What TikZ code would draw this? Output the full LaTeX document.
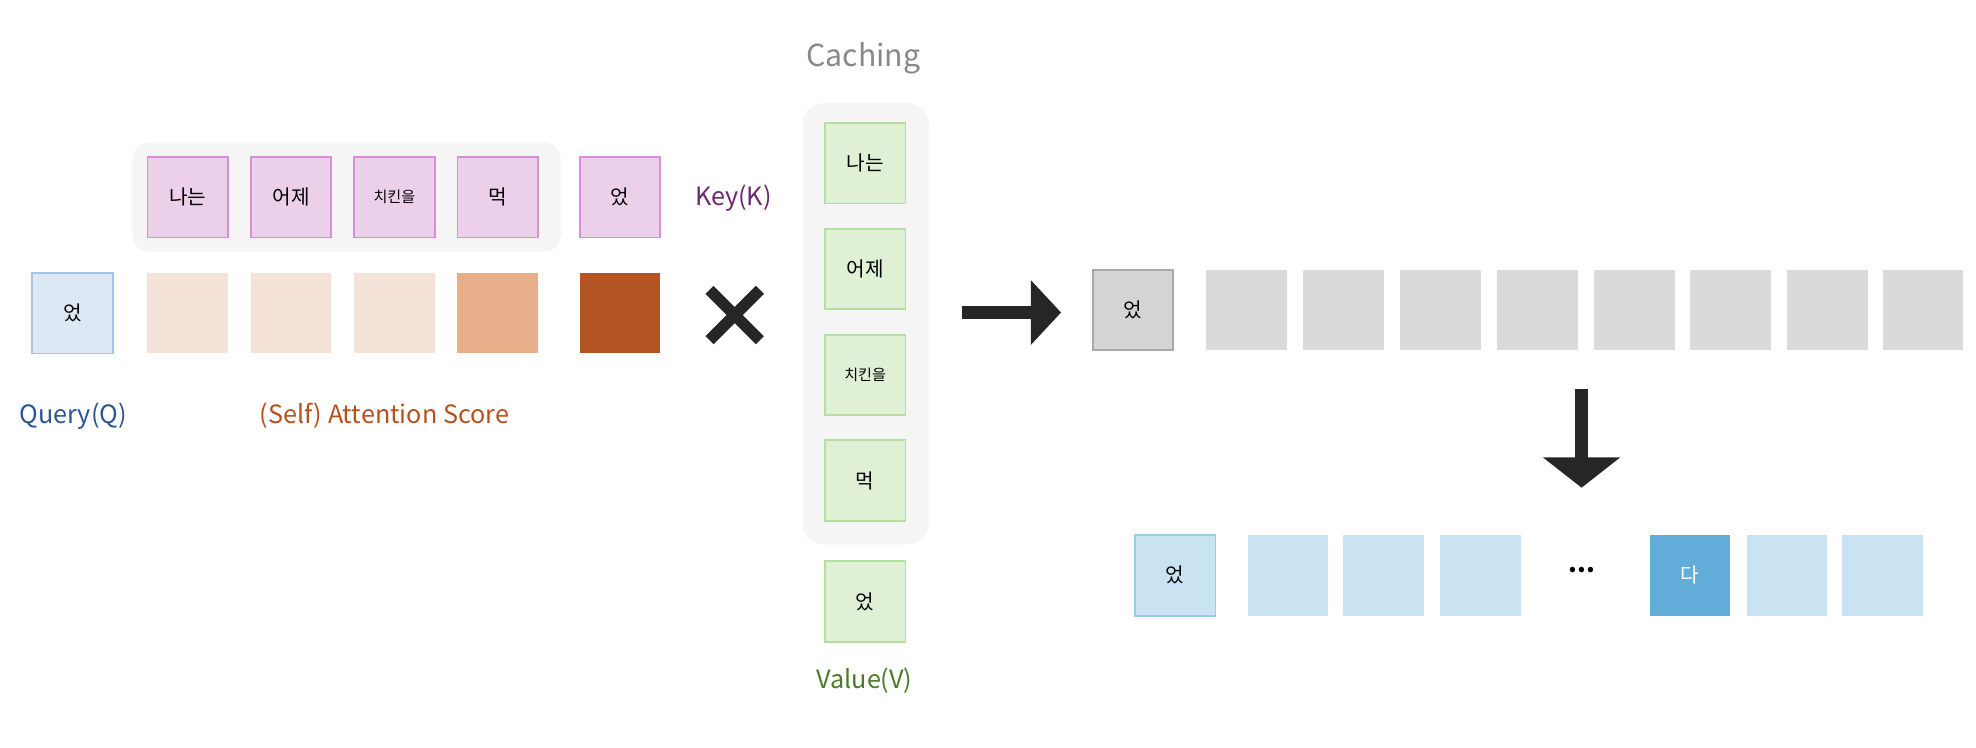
\documentclass[tikz,border=0pt]{standalone}
\usepackage{fontspec}
\setmainfont{Noto Sans CJK KR}
\usetikzlibrary{arrows.meta}
\definecolor{keyf}{HTML}{ECCFE9}\definecolor{keyd}{HTML}{D88FD8}
\definecolor{qf}{HTML}{DDE8F5}\definecolor{qd}{HTML}{A5C4E6}
\definecolor{s1}{HTML}{F5E3D9}\definecolor{s2}{HTML}{E7AE8A}\definecolor{s3}{HTML}{B25424}
\definecolor{vf}{HTML}{DFF0D5}\definecolor{vd}{HTML}{B5DFA0}
\definecolor{gf}{HTML}{DADADA}\definecolor{gq}{HTML}{D4D4D4}\definecolor{gd}{HTML}{A8A8A8}
\definecolor{bf}{HTML}{C9E3F2}\definecolor{bd}{HTML}{9CCBE6}\definecolor{bq}{HTML}{62ACD9}
\definecolor{cont}{HTML}{F5F5F5}\definecolor{ark}{HTML}{262626}
\definecolor{kt}{HTML}{6B2A6B}\definecolor{qt}{HTML}{2B5594}\definecolor{st}{HTML}{B5501F}
\definecolor{vt}{HTML}{4A7A2A}\definecolor{ct}{HTML}{888888}
\tikzset{
 x=1pt,y=-1pt,
 cell/.style={minimum width=64pt,minimum height=64pt,inner sep=0pt,line width=1.5pt,font=\fontsize{16}{16}\selectfont},
 keyc/.style={cell,fill=keyf,draw=keyd},
 valc/.style={cell,fill=vf,draw=vd},
 lbl/.style={font=\fontsize{20}{20}\selectfont},
 bigarrow/.style={draw=ark,line width=10pt,-{Triangle[length=24pt,width=50pt]}}
}
\begin{document}
\begin{tikzpicture}
\useasboundingbox (0,0) rectangle (1568,593);
\node[fill=cont,rounded corners=14pt,minimum width=340pt,minimum height=87pt] (kc) at (275,156.5) {};
\node[keyc] (k1) at (149,156.5) {나는};
\node[keyc] (k2) at (231,156.5) {어제};
\node[keyc,font=\fontsize{12}{12}\selectfont] (k3) at (313,156.5) {치킨을};
\node[keyc] (k4) at (395,156.5) {먹};
\node[keyc] (k5) at (492,156.5) {었};
\node[lbl,text=kt] (kl) at (582,157) {Key(K)};
\node[cell,fill=qf,draw=qd] (q) at (57.5,248.5) {었};
\node[cell,fill=s1] (a1) at (149,248.5) {};
\node[cell,fill=s1] (a2) at (231,248.5) {};
\node[cell,fill=s1] (a3) at (313,248.5) {};
\node[cell,fill=s2] (a4) at (395,248.5) {};
\node[cell,fill=s3] (a5) at (492,248.5) {};
\node[lbl,text=qt] (ql) at (58,330) {Query(Q)};
\node[lbl,text=st] (sl) at (305,330) {(Self) Attention Score};
\coordinate (x1) at (563,230); \coordinate (x2) at (603,270);
\coordinate (x3) at (603,230); \coordinate (x4) at (563,270);
\draw[ark,line width=9pt] (x1) -- (x2); \draw[ark,line width=9pt] (x3) -- (x4);
\node[font=\fontsize{24}{24}\selectfont,text=ct] (cl) at (685,46) {Caching};
\node[fill=cont,rounded corners=16pt,minimum width=100pt,minimum height=350pt] (vc) at (687,257) {};
\node[valc] (v1) at (686.5,129.5) {나는};
\node[valc] (v2) at (686.5,213.5) {어제};
\node[valc,font=\fontsize{12}{12}\selectfont] (v3) at (686.5,297.5) {치킨을};
\node[valc] (v4) at (686.5,381.5) {먹};
\node[valc] (v5) at (686.5,477.5) {었};
\node[lbl,text=vt] (vl) at (686,540) {Value(V)};
\coordinate (r1) at (763,248); \coordinate (r2) at (842,248);
\draw[bigarrow] (r1) -- (r2);
\node[cell,fill=gq,draw=gd] (g0) at (899,246) {었};
\foreach \i/\x in {1/989,2/1066,3/1143,4/1220,5/1297,6/1373,7/1450,8/1526}
  \node[cell,fill=gf] (g\i) at (\x,246) {};
\coordinate (d1) at (1255,309); \coordinate (d2) at (1255,387);
\draw[bigarrow,-{Triangle[length=24pt,width=60pt]}] (d1) -- (d2);
\node[cell,fill=bf,draw=bd] (b0) at (932.5,456.5) {었};
\node[cell,fill=bf] (b1) at (1022,456.5) {};
\node[cell,fill=bf] (b2) at (1098,456.5) {};
\node[cell,fill=bf] (b3) at (1175,456.5) {};
\node[font=\fontsize{20}{20}\selectfont\bfseries] (dots) at (1255,452) {...};
\node[cell,fill=bq,text=white] (b4) at (1341,456.5) {다};
\node[cell,fill=bf] (b5) at (1418,456.5) {};
\node[cell,fill=bf] (b6) at (1494,456.5) {};
\end{tikzpicture}
\end{document}
